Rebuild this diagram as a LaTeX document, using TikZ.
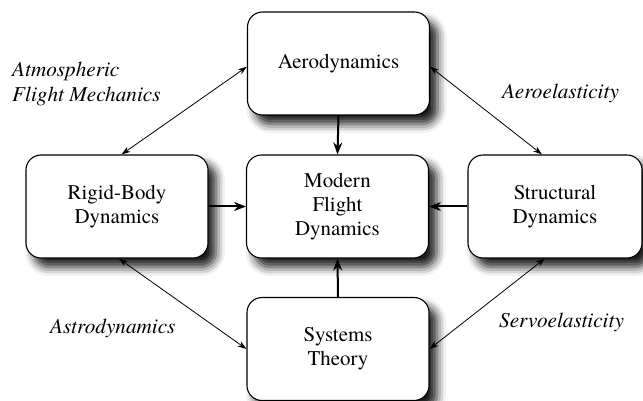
\documentclass[tikz,border=0pt]{standalone}
\usepackage{fontspec}
\setmainfont{texgyretermes}[Extension=.otf, UprightFont=*-regular, ItalicFont=*-italic, BoldFont=*-bold, BoldItalicFont=*-bolditalic]
\usetikzlibrary{arrows.meta,shadows.blur}

\begin{document}
\begin{tikzpicture}[x=1pt,y=-1pt,
  box/.style={draw=black, line width=1.1pt, rounded corners=15pt, fill=white, align=center, inner sep=0pt, minimum width=182pt, minimum height=103pt, font=\fontsize{20.9}{24}\selectfont, blur shadow={shadow xshift=8pt, shadow yshift=-9pt, shadow blur radius=9pt, shadow opacity=90}},
  link/.style={line width=0.8pt, {Stealth[length=9pt,width=6pt]}-{Stealth[length=9pt,width=6pt]}},
  feed/.style={line width=2pt, -{Stealth[length=12pt,width=9pt]}},
  topic/.style={font=\itshape\fontsize{21.2}{25}\selectfont, inner sep=0pt}]
\useasboundingbox (0,0) rectangle (643,401);
\node [box] (aero) at (338.5,63.5) {Aerodynamics};
\node [box] (rigid) at (117,206.5) {Rigid-Body\\Dynamics};
\node [box] (modern) at (337.5,206.5) {Modern\\Flight\\Dynamics};
\node [box, minimum width=174pt] (struct) at (555,206.5) {Structural\\Dynamics};
\node [box] (systems) at (338,349) {Systems\\Theory};
\node [topic, anchor=north west, align=left] (atmos) at (12,62) {Atmospheric\\Flight Mechanics};
\node [topic, anchor=west] (aeroel) at (502,93) {Aeroelasticity};
\node [topic, anchor=west] (astro) at (50,328) {Astrodynamics};
\node [topic, anchor=west] (servo) at (499,322) {Servoelasticity};
\draw [link] (rigid.85) -- (aero.182);
\draw [link] (aero.-2) -- (struct.104);
\draw [link] (rigid.272) -- (systems.west);
\draw [link] (struct.259) -- (systems.east);
\draw [feed] (aero.south) -- (modern.north);
\draw [feed] (rigid.east) -- (modern.west);
\draw [feed] (struct.west) -- (modern.east);
\draw [feed] (systems.north) -- (modern.south);
\end{tikzpicture}
\end{document}
